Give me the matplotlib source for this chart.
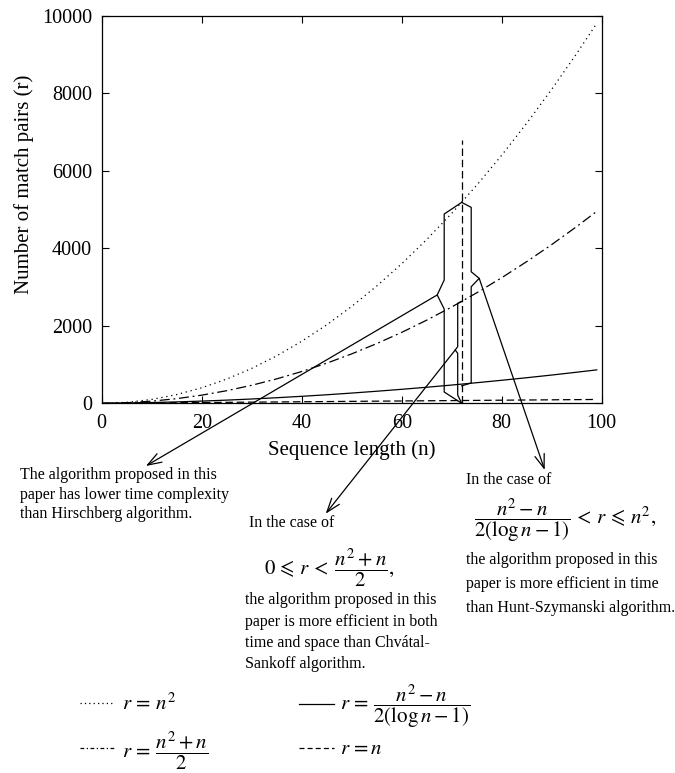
import matplotlib
matplotlib.use('Agg')
import matplotlib.pyplot as plt

plt.rcParams['font.family'] = 'Liberation Serif'
plt.rcParams['mathtext.fontset'] = 'stix'

# Sequence length samples and curve values
n_vals     = [0, 5, 10, 15, 20, 25, 30, 35, 40, 45, 50, 55, 60, 65, 70, 75, 80, 85, 90, 95, 99]
r_square   = [0, 25, 100, 225, 400, 625, 900, 1225, 1600, 2025, 2500, 3025, 3600, 4225,
              4900, 5625, 6400, 7225, 8100, 9025, 9801]
r_half     = [0, 15, 55, 120, 210, 325, 465, 630, 820, 1035, 1275, 1540, 1830, 2145,
              2485, 2850, 3240, 3655, 4095, 4560, 4950]
r_log      = [0, 8, 19, 36, 57, 82, 111, 144, 180, 220, 264, 311, 361, 414,
              471, 531, 594, 660, 729, 802, 862]
r_linear   = [0, 5, 10, 15, 20, 25, 30, 35, 40, 45, 50, 55, 60, 65, 70, 75, 80, 85, 90, 95, 99]

# vertical marker at n = 72
n_mark = 72
mark_top = 6800

# brace outlines (n, r)
left_brace_n  = [72, 68.5, 68.5, 67.1, 68.5, 68.5, 72]
left_brace_r  = [5184, 4883, 3181, 2795, 2432, 291, 0]
right_brace_n = [72, 73.9, 73.9, 75.5, 73.9, 73.9, 72]
right_brace_r = [5184, 5055, 3394, 3224, 3007, 524, 450]
inner_brace_n = [72, 71.2, 71.2, 70.7, 71.2, 71.2, 72]
inner_brace_r = [2628, 2579, 1460, 1375, 1290, 214, 0]

# arrow ends (start at brace tips)
arrow_starts = [(67.1, 2795), (70.7, 1375), (75.5, 3224)]
arrow_ends   = [(8.84, -1617), (44.8, -2848), (88.6, -1720)]

W, H = 675, 773
fig = plt.figure(figsize=(W / 100, H / 100), dpi=100)
ax = fig.add_axes([101.7 / W, 1 - 403.3 / H, 500 / W, 387.6 / H])

lw = 0.9
ax.plot(n_vals, r_square, color='k', lw=lw, linestyle=(0, (1, 3)))
ax.plot(n_vals, r_half, color='k', lw=lw, linestyle=(0, (8, 3, 1.5, 3)))
ax.plot(n_vals, r_log, color='k', lw=lw, linestyle='-')
ax.plot(n_vals, r_linear, color='k', lw=lw, linestyle=(0, (6, 3)))
ax.plot([n_mark, n_mark], [0, mark_top], color='k', lw=lw, linestyle=(0, (6, 3)))

ax.plot(left_brace_n, left_brace_r, color='k', lw=lw)
ax.plot(right_brace_n, right_brace_r, color='k', lw=lw)
ax.plot(inner_brace_n, inner_brace_r, color='k', lw=lw)

for (x0, y0), (x1, y1) in zip(arrow_starts, arrow_ends):
    ax.annotate('', xy=(x1, y1), xytext=(x0, y0), annotation_clip=False,
                arrowprops=dict(arrowstyle='->, head_length=1.0, head_width=0.35',
                                color='k', lw=lw, shrinkA=0, shrinkB=0))

ax.set_xlim(0, 100)
ax.set_ylim(0, 10000)
ax.set_xticks([0, 20, 40, 60, 80, 100])
ax.set_yticks([0, 2000, 4000, 6000, 8000, 10000])
ax.tick_params(direction='in', top=True, right=True, labelsize=14.5, length=5, width=0.8)
ax.tick_params(axis='x', pad=8)
ax.tick_params(axis='y', pad=7)
for s in ax.spines.values():
    s.set_linewidth(0.9)
ax.set_xlabel('Sequence length (n)', fontsize=15, labelpad=5)
ax.set_ylabel('Number of match pairs (r)', fontsize=15, va='center')
ax.yaxis.set_label_coords(-0.155, 0.565)


def ftext(x, y, s, size=11.5, **kw):
    fig.text(x / W, 1 - y / H, s, fontsize=size, va='center', **kw)


# Hirschberg note
ftext(20, 475, 'The algorithm proposed in this')
ftext(20, 495, 'paper has lower time complexity')
ftext(20, 514, 'than Hirschberg algorithm.')

# Chvatal-Sankoff note
ftext(249, 523, 'In the case of')
ftext(264, 568, r'$0\,\leqslant\,r\,<\;\dfrac{n^2+n}{2},$', size=15)
ftext(245, 600, 'the algorithm proposed in this')
ftext(245, 622, 'paper is more efficient in both')
ftext(245, 643, 'time and space than Chvátal-')
ftext(245, 664, 'Sankoff algorithm.')

# Hunt-Szymanski note
ftext(466, 480, 'In the case of')
ftext(474, 520, r'$\dfrac{n^2-n}{2(\log n-1)}\,<\,r\,\leqslant\,n^2,$', size=15)
ftext(466, 560, 'the algorithm proposed in this')
ftext(466, 584, 'paper is more efficient in time')
ftext(466, 608, 'than Hunt-Szymanski algorithm.')

# legend
leg = fig.add_axes([0, 0, 1, 1], facecolor='none')
leg.set_axis_off()
leg.set_xlim(0, W)
leg.set_ylim(H, 0)
leg.plot([80, 115], [703, 703], color='k', lw=lw, linestyle=(0, (1, 2.5)))
leg.plot([80, 115], [748, 748], color='k', lw=lw, linestyle=(0, (3, 2, 1, 2)))
leg.plot([299, 334], [704, 704], color='k', lw=lw)
leg.plot([299, 334], [748, 748], color='k', lw=lw, linestyle=(0, (4, 2.5)))
ftext(122, 704, r'$r\,=\,n^2$', size=15)
ftext(122, 751, r'$r\,=\,\dfrac{n^2+n}{2}$', size=15)
ftext(340, 706, r'$r\,=\,\dfrac{n^2-n}{2(\log n-1)}$', size=15)
ftext(340, 749, r'$r\,=n$', size=15)

fig.savefig('out.png', dpi=100)
